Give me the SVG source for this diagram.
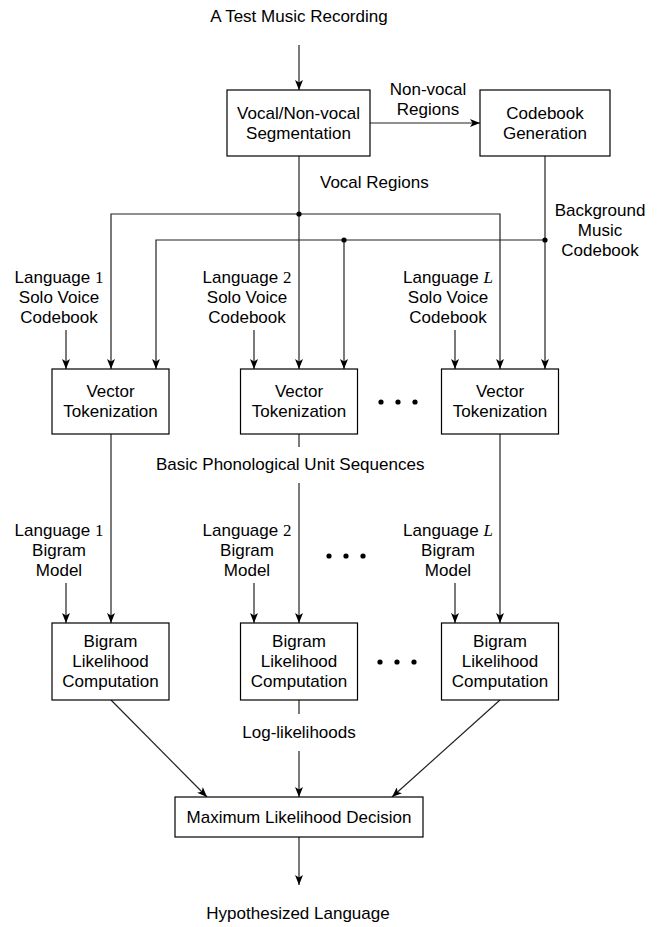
<svg xmlns="http://www.w3.org/2000/svg" width="671" height="927" viewBox="0 0 671 927">
  <style>
    text { font-family: "Liberation Sans", Arial, sans-serif; font-size: 17px; fill: #000; text-anchor: middle; }
    .num { font-family: "Liberation Serif", "Times New Roman", serif; }
    .var { font-family: "Liberation Serif", "Times New Roman", serif; font-style: italic; }
    .box { fill: #fff; stroke: #000; stroke-width: 1.2; }
    .wire { fill: none; stroke: #222; stroke-width: 1.2; }
    .arrow { fill: none; stroke: #222; stroke-width: 1.2; marker-end: url(#head); }
    .dot { fill: #000; }
  </style>
  <defs>
    <marker id="head" viewBox="0 0 10 8" refX="10" refY="4" markerWidth="10" markerHeight="8" markerUnits="userSpaceOnUse" orient="auto">
      <path d="M0,0 L10,4 L0,8 L2.5,4 Z" fill="#000"/>
    </marker>
  </defs>

  <rect width="671" height="927" fill="#fff"/>

  <!-- free-standing labels -->
  <g id="input-label"><text x="299" y="22">A Test Music Recording</text></g>
  <g id="nonvocal-label"><text x="428" y="95">Non-vocal</text><text x="428" y="115">Regions</text></g>
  <g id="vocal-label"><text x="320" y="188" style="text-anchor:start">Vocal Regions</text></g>
  <g id="bg-codebook-label"><text x="600" y="216">Background</text><text x="600" y="236">Music</text><text x="600" y="256">Codebook</text></g>

  <g id="solo-codebook-1"><text x="59" y="283">Language <tspan class="num">1</tspan></text><text x="59" y="303">Solo Voice</text><text x="59" y="323">Codebook</text></g>
  <g id="solo-codebook-2"><text x="247" y="283">Language <tspan class="num">2</tspan></text><text x="247" y="303">Solo Voice</text><text x="247" y="323">Codebook</text></g>
  <g id="solo-codebook-L"><text x="448" y="283">Language <tspan class="var">L</tspan></text><text x="448" y="303">Solo Voice</text><text x="448" y="323">Codebook</text></g>

  <g id="sequence-label"><text x="156" y="470" style="text-anchor:start">Basic Phonological Unit Sequences</text></g>

  <g id="bigram-model-1"><text x="59" y="536">Language <tspan class="num">1</tspan></text><text x="59" y="556">Bigram</text><text x="59" y="576">Model</text></g>
  <g id="bigram-model-2"><text x="247" y="536">Language <tspan class="num">2</tspan></text><text x="247" y="556">Bigram</text><text x="247" y="576">Model</text></g>
  <g id="bigram-model-L"><text x="448" y="536">Language <tspan class="var">L</tspan></text><text x="448" y="556">Bigram</text><text x="448" y="576">Model</text></g>

  <g id="loglik-label"><text x="299" y="738">Log-likelihoods</text></g>
  <g id="output-label"><text x="298" y="919">Hypothesized Language</text></g>

  <!-- ellipses between columns -->
  <g id="ellipsis-tokenizers"><circle class="dot" cx="381" cy="402" r="2.6"/><circle class="dot" cx="398" cy="402" r="2.6"/><circle class="dot" cx="415" cy="402" r="2.6"/></g>
  <g id="ellipsis-models"><circle class="dot" cx="329" cy="556" r="2.6"/><circle class="dot" cx="346" cy="556" r="2.6"/><circle class="dot" cx="363" cy="556" r="2.6"/></g>
  <g id="ellipsis-scorers"><circle class="dot" cx="380" cy="662" r="2.6"/><circle class="dot" cx="397" cy="662" r="2.6"/><circle class="dot" cx="414" cy="662" r="2.6"/></g>

  <!-- connectors -->
  <g id="connectors">
    <line class="arrow" x1="299" y1="45" x2="299" y2="90"/>
    <line class="arrow" x1="370" y1="123" x2="480" y2="123"/>
    <!-- vocal regions bus -->
    <line class="arrow" x1="299" y1="156" x2="299" y2="369"/>
    <polyline class="arrow" points="299,214 111,214 111,369"/>
    <polyline class="arrow" points="299,214 500,214 500,369"/>
    <!-- background codebook bus -->
    <line class="arrow" x1="545" y1="156" x2="545" y2="369"/>
    <polyline class="arrow" points="545,240 156,240 156,369"/>
    <line class="arrow" x1="344" y1="240" x2="344" y2="369"/>
    <circle class="dot" cx="299" cy="214" r="2.6"/>
    <circle class="dot" cx="545" cy="240" r="2.6"/>
    <circle class="dot" cx="344" cy="240" r="2.6"/>
    <!-- solo voice codebooks -->
    <line class="arrow" x1="66" y1="330" x2="66" y2="369"/>
    <line class="arrow" x1="254" y1="330" x2="254" y2="369"/>
    <line class="arrow" x1="455" y1="330" x2="455" y2="369"/>
    <!-- token sequences -->
    <line class="arrow" x1="111" y1="434" x2="111" y2="623"/>
    <line class="wire" x1="299" y1="434" x2="299" y2="447"/>
    <line class="arrow" x1="299" y1="483" x2="299" y2="623"/>
    <line class="arrow" x1="500" y1="434" x2="500" y2="623"/>
    <!-- bigram models -->
    <line class="arrow" x1="66" y1="583" x2="66" y2="623"/>
    <line class="arrow" x1="254" y1="583" x2="254" y2="623"/>
    <line class="arrow" x1="455" y1="583" x2="455" y2="623"/>
    <!-- log-likelihoods -->
    <line class="arrow" x1="111" y1="700" x2="207" y2="797"/>
    <line class="wire" x1="299" y1="700" x2="299" y2="714"/>
    <line class="arrow" x1="299" y1="751" x2="299" y2="797"/>
    <line class="arrow" x1="500" y1="700" x2="392" y2="797"/>
    <line class="arrow" x1="299" y1="837" x2="299" y2="885"/>
  </g>

  <!-- process blocks -->
  <g id="segmentation"><rect class="box" x="227" y="90" width="143" height="66"/><text x="298.5" y="119">Vocal/Non-vocal</text><text x="298.5" y="139">Segmentation</text></g>
  <g id="codebook-generation"><rect class="box" x="480" y="90" width="130" height="66"/><text x="545" y="119">Codebook</text><text x="545" y="139">Generation</text></g>

  <g id="tokenizer-1"><rect class="box" x="52" y="369" width="117" height="65"/><text x="110.5" y="397">Vector</text><text x="110.5" y="417">Tokenization</text></g>
  <g id="tokenizer-2"><rect class="box" x="240.5" y="369" width="117" height="65"/><text x="299" y="397">Vector</text><text x="299" y="417">Tokenization</text></g>
  <g id="tokenizer-L"><rect class="box" x="441.5" y="369" width="117" height="65"/><text x="500" y="397">Vector</text><text x="500" y="417">Tokenization</text></g>

  <g id="scorer-1"><rect class="box" x="52" y="623" width="117" height="77"/><text x="110.5" y="647">Bigram</text><text x="110.5" y="667">Likelihood</text><text x="110.5" y="687">Computation</text></g>
  <g id="scorer-2"><rect class="box" x="240.5" y="623" width="117" height="77"/><text x="299" y="647">Bigram</text><text x="299" y="667">Likelihood</text><text x="299" y="687">Computation</text></g>
  <g id="scorer-L"><rect class="box" x="441.5" y="623" width="117" height="77"/><text x="500" y="647">Bigram</text><text x="500" y="667">Likelihood</text><text x="500" y="687">Computation</text></g>

  <g id="decision"><rect class="box" x="175" y="797" width="248" height="40"/><text x="299" y="823">Maximum Likelihood Decision</text></g>
</svg>
